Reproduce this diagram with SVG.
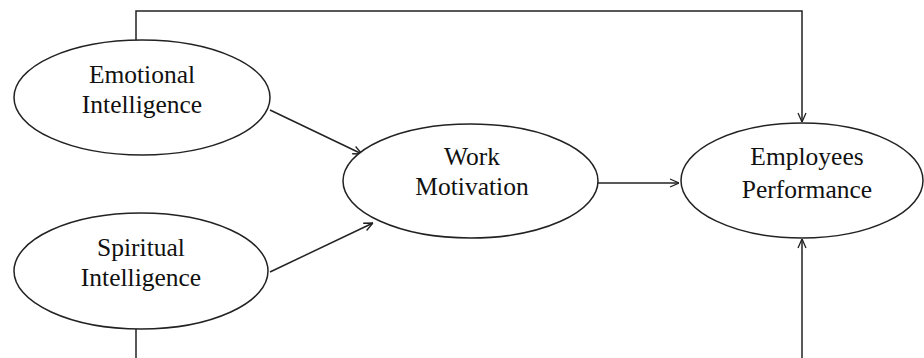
<svg xmlns="http://www.w3.org/2000/svg" width="924" height="358" viewBox="0 0 924 358">
<style>
.n ellipse{fill:#fff;stroke:#222;stroke-width:1.5}
.n text{font-family:'Liberation Serif','Times New Roman',serif;font-size:25.5px;fill:#111;text-anchor:middle}
.c path{fill:none;stroke:#222;stroke-width:1.5}
</style>
<defs>
<marker id="ah" viewBox="0 0 10 10" refX="10" refY="5" markerWidth="10" markerHeight="10" markerUnits="userSpaceOnUse" orient="auto">
<path d="M1,1 L10,5 L1,9" fill="none" stroke="#222" stroke-width="1.3"/>
</marker>
</defs>
<rect width="924" height="358" fill="#fff"/>
<g class="c" id="connectors">
<path d="M136,40 V11 H802 V122" marker-end="url(#ah)"/>
<path d="M136,358 V329"/>
<path d="M802,358 V239" marker-end="url(#ah)"/>
<path d="M270,110 L362,154" marker-end="url(#ah)"/>
<path d="M270,272 L373,223" marker-end="url(#ah)"/>
<path d="M598,183 L679,183" marker-end="url(#ah)"/>
</g>
<g class="n" id="emotional">
<ellipse cx="142" cy="97.5" rx="128" ry="57.5"/>
<text x="142" y="83">Emotional</text>
<text x="142" y="113">Intelligence</text>
</g>
<g class="n" id="spiritual">
<ellipse cx="141" cy="271" rx="127" ry="58"/>
<text x="141" y="256">Spiritual</text>
<text x="141" y="286">Intelligence</text>
</g>
<g class="n" id="work">
<ellipse cx="470.5" cy="181" rx="127.5" ry="57"/>
<text x="472" y="165">Work</text>
<text x="472" y="195">Motivation</text>
</g>
<g class="n" id="performance">
<ellipse cx="802" cy="180.5" rx="121" ry="57.5"/>
<text x="807" y="165">Employees</text>
<text x="807" y="198">Performance</text>
</g>
</svg>
